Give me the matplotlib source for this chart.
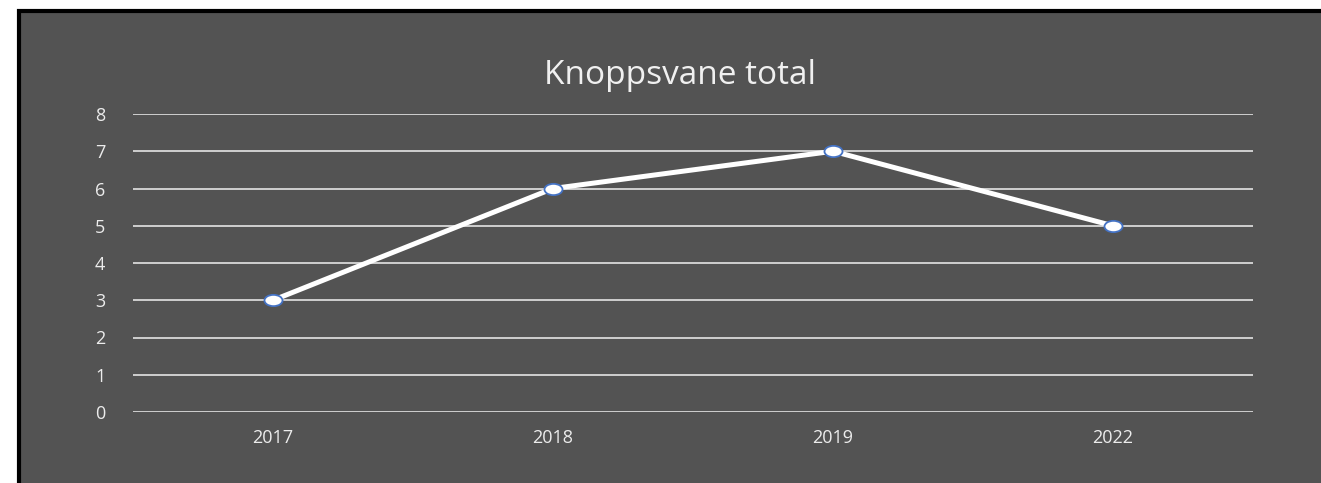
import matplotlib.pyplot as plt
from matplotlib.patches import Rectangle
from matplotlib.path import Path
from matplotlib.transforms import Affine2D

years = ['2017', '2018', '2019', '2022']
values = [3, 6, 7, 5]
yticks = [0, 1, 2, 3, 4, 5, 6, 7, 8]

W, H = 1321, 483
fig = plt.figure(figsize=(W / 100, H / 100), dpi=100, facecolor='white')

# grey chart area with black border on top and left
bg = Rectangle((19 / W, -0.01), 1.02, (H - 11) / H + 0.01, transform=fig.transFigure,
               facecolor='#535353', edgecolor='black', linewidth=3, zorder=0)
fig.patches.append(bg)

# slightly wide oval marker
oval = Path.unit_circle().transformed(Affine2D().scale(1.6, 1.0))

ax = fig.add_axes([133 / W, 1 - 412 / H, 1120 / W, 298 / H])
ax.set_zorder(2)
ax.set_facecolor('none')
x = range(len(years))
ax.plot(x, values, color='white', linewidth=3.6, marker=oval, markersize=13,
        markerfacecolor='white', markeredgecolor='#4472C4', markeredgewidth=1.3,
        solid_capstyle='round', zorder=3)

ax.set_xlim(-0.5, len(years) - 0.5)
ax.set_ylim(0, 8)
ax.set_yticks(yticks)
ax.set_xticks(list(x))
ax.set_xticklabels(years)
ax.grid(axis='y', color='#d9d9d9', linewidth=1.3)
ax.set_axisbelow(True)
for s in ax.spines.values():
    s.set_visible(False)
ax.tick_params(length=0, colors='#ececec', labelsize=13)
ax.tick_params(axis='y', pad=20)
ax.tick_params(axis='x', pad=12)
for lab in ax.get_xticklabels() + ax.get_yticklabels():
    lab.set_family('Open Sans')

fig.text(680 / W, 1 - 75 / H, 'Knoppsvane total', ha='center', va='center',
         color='#f0f0f0', fontsize=24, family='Open Sans', zorder=3)

fig.savefig('out.png', dpi=100, facecolor='white')
